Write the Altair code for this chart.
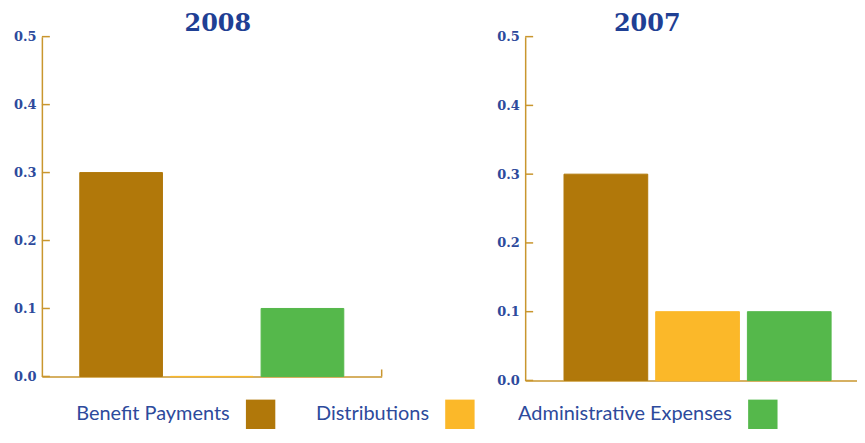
import altair as alt
import pandas as pd

categories = ["Benefit Payments", "Distributions", "Administrative Expenses"]
colors = ["#b1780a", "#fbb829", "#55b84b"]
values_2008 = [0.3, 0.0, 0.1]
values_2007 = [0.3, 0.1, 0.1]
y_ticks = [0.0, 0.1, 0.2, 0.3, 0.4, 0.5]
legend_slots = [219.5, 419.5, 723.5]

GOLD = "#c9962e"
BLUE = "#2d4a9c"
TITLE_BLUE = "#1f3f94"

color_scale = alt.Scale(domain=categories, range=colors)


def panel(year, values, width, height, pad_inner, pad_outer, align, title_dx, end_tick):
    df = pd.DataFrame({"category": categories, "value": values})
    ticks = pd.DataFrame({"t": y_ticks})
    y_scale = alt.Scale(domain=[0, 0.5], nice=False)
    bars = alt.Chart(df).mark_bar(strokeWidth=1, strokeOpacity=1).encode(
        x=alt.X("category:N", sort=categories,
                scale=alt.Scale(paddingInner=pad_inner, paddingOuter=pad_outer, align=align),
                axis=alt.Axis(labels=False, ticks=False, title=None,
                              domainColor=GOLD, domainWidth=1.5)),
        y=alt.Y("value:Q", scale=y_scale,
                axis=alt.Axis(values=y_ticks, format=".1f", tickSize=0, grid=False,
                              title=None, domainColor=GOLD, domainWidth=1.5,
                              labelFont="DejaVu Serif", labelFontWeight="bold",
                              labelFontSize=13, labelColor=BLUE, labelPadding=6)),
        color=alt.Color("category:N", scale=color_scale, sort=categories, legend=None),
        stroke=alt.Stroke("category:N", scale=color_scale, legend=None),
    )
    tick_rules = alt.Chart(ticks).mark_rule(color=GOLD, strokeWidth=1.5).encode(
        y=alt.Y("t:Q", scale=y_scale),
        x=alt.value(0), x2=alt.value(8),
    )
    layers = [bars, tick_rules]
    if end_tick:
        layers.append(
            alt.Chart(ticks).transform_filter(alt.datum.t == 0).mark_rule(
                color=GOLD, strokeWidth=1.5).encode(
                x=alt.value(width), y=alt.Y("t:Q", scale=y_scale), y2=alt.value(height - 7))
        )
    return alt.layer(*layers).properties(
        width=width, height=height,
        title=alt.TitleParams(text=year, font="DejaVu Serif", fontSize=24,
                              fontWeight="bold", color=TITLE_BLUE, anchor="middle",
                              dx=title_dx, offset=-5),
    )


legend_df = pd.DataFrame({"category": categories, "slot": legend_slots})
legend_x = alt.X("slot:Q", scale=alt.Scale(domain=[0, 800], range=[0, 800]), axis=None)
legend_sw = alt.Chart(legend_df).mark_square(size=870, opacity=1).encode(
    x=legend_x,
    y=alt.value(15),
    color=alt.Color("category:N", scale=color_scale, legend=None),
)
legend_tx = alt.Chart(legend_df).mark_text(
    align="right", baseline="middle", dx=-31, font="Lato", fontSize=20, color=BLUE
).encode(x=legend_x, y=alt.value(15), text="category:N")
legend = alt.layer(legend_sw, legend_tx).properties(width=800, height=30)

chart = alt.vconcat(
    alt.hconcat(
        panel("2008", values_2008, 341, 341, 0.088, 0.418, 0.5, 6, True),
        panel("2007", values_2007, 333, 345, 0.087, 0.353, 0.6, -44, False),
        spacing=114,
    ),
    legend,
    spacing=12,
).configure_view(stroke=None).properties(
    background="white",
    padding={"left": 5, "top": 3, "right": 0, "bottom": 0},
)

chart.save("out.html", embed_options={"renderer": "svg", "actions": False})
